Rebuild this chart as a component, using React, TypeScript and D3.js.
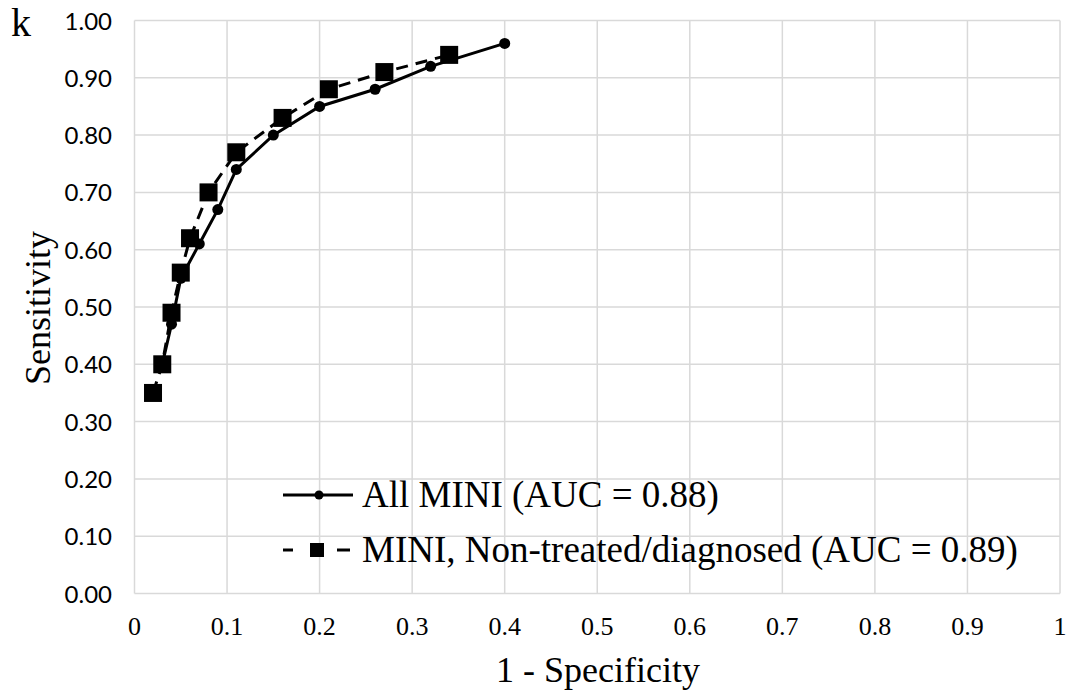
import React, { useEffect, useRef } from 'react';
import * as d3 from 'd3';

// ROC points: [1 - specificity, sensitivity]
const allMini: [number, number][] = [
  [0.03, 0.40], [0.04, 0.47], [0.05, 0.55], [0.07, 0.61], [0.09, 0.67],
  [0.11, 0.74], [0.15, 0.80], [0.20, 0.85], [0.26, 0.88], [0.32, 0.92], [0.40, 0.96],
];
const nonTreated: [number, number][] = [
  [0.02, 0.35], [0.03, 0.40], [0.04, 0.49], [0.05, 0.56], [0.06, 0.62],
  [0.08, 0.70], [0.11, 0.77], [0.16, 0.83], [0.21, 0.88], [0.27, 0.91], [0.34, 0.94],
];
const xTicks = [0, 0.1, 0.2, 0.3, 0.4, 0.5, 0.6, 0.7, 0.8, 0.9, 1];
const yTicks = [0, 0.1, 0.2, 0.3, 0.4, 0.5, 0.6, 0.7, 0.8, 0.9, 1];
const legendLabels = ['All MINI (AUC = 0.88)', 'MINI, Non-treated/diagnosed (AUC = 0.89)'];

const W = 1071, H = 694;
const left = 134.5, right = 1060, top = 20.5, bottom = 593.5;
const serif = '"Liberation Serif", "Times New Roman", serif';

export default function App() {
  const ref = useRef<SVGSVGElement>(null);

  useEffect(() => {
    const svg = d3.select(ref.current);
    svg.selectAll('*').remove();

    const x = d3.scaleLinear().domain([0, 1]).range([left, right]);
    const y = d3.scaleLinear().domain([0, 1]).range([bottom, top]);

    // grid
    const grid = svg.append('g').attr('stroke', '#d9d9d9').attr('stroke-width', 1.5);
    grid.selectAll('line.v').data(xTicks).enter().append('line')
      .attr('x1', d => x(d)).attr('x2', d => x(d)).attr('y1', top).attr('y2', bottom);
    grid.selectAll('line.h').data(yTicks).enter().append('line')
      .attr('x1', left).attr('x2', right).attr('y1', d => y(d)).attr('y2', d => y(d));

    // tick labels
    svg.append('g').selectAll('text').data(yTicks).enter().append('text')
      .attr('x', 112).attr('y', d => y(d) + 9)
      .attr('text-anchor', 'end')
      .style('font-family', 'Lato, "Open Sans", sans-serif').style('font-size', '24px')
      .text(d => d3.format('.2f')(d));
    svg.append('g').selectAll('text').data(xTicks).enter().append('text')
      .attr('x', d => x(d)).attr('y', 635)
      .attr('text-anchor', 'middle')
      .style('font-family', serif).style('font-size', '26px')
      .text(d => String(d));

    // axis titles
    svg.append('text').attr('x', 598).attr('y', 682).attr('text-anchor', 'middle')
      .style('font-family', serif).style('font-size', '36px').text('1 - Specificity');
    svg.append('text').attr('transform', `translate(50, 308) rotate(-90)`)
      .attr('text-anchor', 'middle')
      .style('font-family', serif).style('font-size', '36px').text('Sensitivity');
    svg.append('text').attr('x', 11).attr('y', 36)
      .style('font-family', serif).style('font-size', '40px').text('k');

    const line = d3.line<[number, number]>().x(d => x(d[0])).y(d => y(d[1]));

    // non-treated (dashed, squares)
    svg.append('path').datum(nonTreated).attr('d', line)
      .attr('fill', 'none').attr('stroke', '#000').attr('stroke-width', 3)
      .attr('stroke-dasharray', '12,8');
    svg.append('g').selectAll('rect').data(nonTreated).enter().append('rect')
      .attr('x', d => x(d[0]) - 9).attr('y', d => y(d[1]) - 9)
      .attr('width', 18).attr('height', 18).attr('fill', '#000');

    // all MINI (solid, circles)
    svg.append('path').datum(allMini).attr('d', line)
      .attr('fill', 'none').attr('stroke', '#000').attr('stroke-width', 3);
    svg.append('g').selectAll('circle').data(allMini).enter().append('circle')
      .attr('cx', d => x(d[0])).attr('cy', d => y(d[1])).attr('r', 5.5).attr('fill', '#000');

    // legend
    const lg = svg.append('g');
    lg.append('line').attr('x1', 283).attr('x2', 353).attr('y1', 495).attr('y2', 495)
      .attr('stroke', '#000').attr('stroke-width', 3);
    lg.append('circle').attr('cx', 319).attr('cy', 495).attr('r', 4.5).attr('fill', '#000');
    lg.append('line').attr('x1', 283).attr('x2', 293).attr('y1', 550).attr('y2', 550)
      .attr('stroke', '#000').attr('stroke-width', 3);
    lg.append('line').attr('x1', 337).attr('x2', 350).attr('y1', 550).attr('y2', 550)
      .attr('stroke', '#000').attr('stroke-width', 3);
    lg.append('rect').attr('x', 310).attr('y', 543).attr('width', 14).attr('height', 14).attr('fill', '#000');
    lg.selectAll('text.lab').data(legendLabels).enter().append('text')
      .attr('x', 362).attr('y', (d, i) => 507 + i * 55)
      .style('font-family', serif).style('font-size', '37px')
      .text(d => d);
  }, []);

  return (
    <svg ref={ref} width={W} height={H}
      style={{ position: 'absolute', left: 0, top: 0, background: '#fff' }} />
  );
}
